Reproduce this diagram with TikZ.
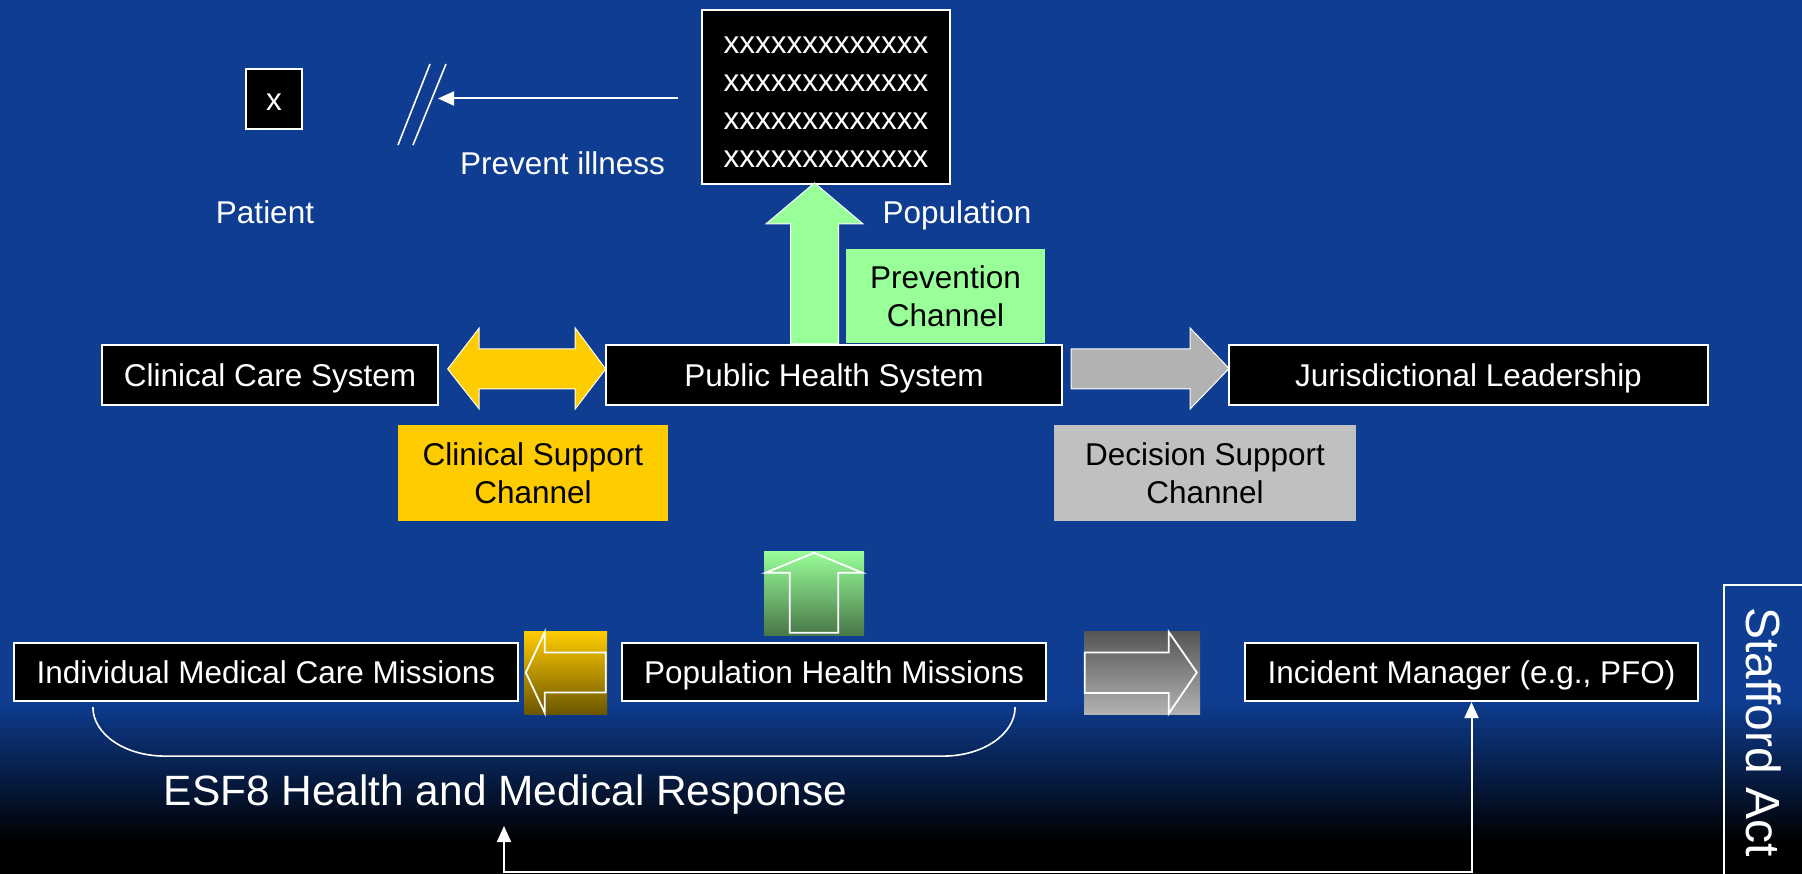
\documentclass[tikz,border=0pt]{standalone}
\usepackage{fontspec}
\setmainfont{Liberation Sans}
\usepackage{tikz}
\usetikzlibrary{calc,arrows.meta}
\definecolor{bgblue}{RGB}{14,61,146}
\definecolor{chanyellow}{RGB}{255,204,0}
\definecolor{changreen}{RGB}{153,255,153}
\definecolor{changray}{RGB}{192,192,192}
\definecolor{arrowgray}{RGB}{178,178,178}
\definecolor{tileolive}{RGB}{108,86,0}
\definecolor{tilegreen}{RGB}{72,120,72}
\definecolor{tiledark}{RGB}{85,85,85}
\tikzset{
  %---------------------------------------%
  %  Boxes                                %
  %---------------------------------------%
  % Box for the systems and missions
  box_dark/.style={
    rectangle,
    draw=white,
    line width=2.2pt,
    fill=black,
    text=white,
    inner sep=0pt,
    font=\fontsize{31.5}{38}\selectfont,
    text height=22.7pt,
    text depth=0pt
  },
  % Box for the channel names
  box_chan/.style={
    rectangle,
    align=center,
    inner sep=0pt,
    text=black,
    font=\fontsize{31.5}{38}\selectfont
  },
  % Plain white labels
  label_plain/.style={
    text=white,
    inner sep=0pt,
    font=\fontsize{31.5}{38}\selectfont,
    text height=22.7pt,
    text depth=0pt
  },
  % Shaded tiles holding the outlined arrows
  tile/.style={
    rectangle,
    inner sep=0pt
  },
  %----------------%
  %     Arrows     %
  %----------------%
  arrow/.style={draw=white,line width=2pt,->,>={Triangle[length=16pt,width=14pt]}},
  block_yellow/.style={fill=chanyellow,draw=white,line width=1pt},
  block_green/.style={fill=changreen,draw=white,line width=1pt},
  block_gray/.style={fill=arrowgray,draw=white,line width=1pt},
  hollow/.style={draw=white,line width=1.8pt,line join=miter},
  thin_line/.style={draw=white,line width=1.6pt},
}

\begin{document}
\begin{tikzpicture}[x=1pt, y=-1pt]
    \useasboundingbox (0,0) rectangle (1802,874);
    %--------------%
    %  Background  %
    %--------------%
    \fill [bgblue] (0,0) rectangle (1802,874);
    \shade [top color=bgblue, bottom color=black] (0,700) rectangle (1802,842);
    \fill [black] (0,841) rectangle (1802,874);

    %-----------------%
    %  Upper diagram  %
    %-----------------%
    % Patient side
    \node (patbox) [box_dark, minimum width=56, minimum height=60] at (274,99) {x};
    \node (patient) [label_plain] at (265,212) {Patient};
    % Population side
    \node (popbox) [box_dark, text height=141pt, text depth=, align=center, minimum width=248, minimum height=174] at (826,97) {xxxxxxxxxxxxx\\xxxxxxxxxxxxx\\xxxxxxxxxxxxx\\xxxxxxxxxxxxx};
    \node (population) [label_plain] at (957,212) {Population};
    \node (prevent) [label_plain] at (562.5,163.5) {Prevent illness};

    % Systems
    \node (ccs) [box_dark, minimum width=336, minimum height=60] at (270,375) {Clinical Care System};
    \node (phs) [box_dark, minimum width=456, minimum height=60] at (834,375) {Public Health System};
    \node (jl) [box_dark, minimum width=479, minimum height=60] at (1468.5,375) {Jurisdictional Leadership};

    % Channels
    \node (prevchan) [box_chan, fill=changreen, minimum width=199, minimum height=94] at (945.5,296) {Prevention\\Channel};
    \node (clinchan) [box_chan, fill=chanyellow, minimum width=270, minimum height=95.5] at (533,472.75) {Clinical Support\\Channel};
    \node (decchan) [box_chan, fill=changray, minimum width=302, minimum height=95.5] at (1205,472.75) {Decision Support\\Channel};

    % Prevention --> Population
    \draw [block_green] ($(phs.north)+(-43.5,0)$) -- ++(0,-120) -- ++(-24.5,0) -- ++(48.5,-41) -- ++(48.5,41) -- ++(-24.5,0) -- ++(0,120) -- cycle;
    % Clinical Care <--> Public Health
    \draw [block_yellow] ($(ccs.east)+(8.6,-6)$) -- ++(31.5,-41) -- ++(0,21) -- ++(96,0) -- ++(0,-21) -- ++(30.5,41) -- ++(-30.5,40) -- ++(0,-20) -- ++(-96,0) -- ++(0,20) -- cycle;
    % Public Health --> Jurisdictional Leadership
    \draw [block_gray] ($(phs.east)+(8,-26)$) -- ++(119,0) -- ++(0,-21) -- ++(39,40.5) -- ++(-39,40.5) -- ++(0,-20) -- ++(-119,0) -- cycle;

    % Population --> Patient (cut off)
    \coordinate (cut) at (438,98.5);
    \draw [arrow] ($(popbox.west)+(-23,1.5)$) -- (cut);
    \draw [thin_line] (398,145) -- (430,64);
    \draw [thin_line] (413,145) -- (446,64);

    %-----------------%
    %  Lower diagram  %
    %-----------------%
    % Missions
    \node (imc) [box_dark, minimum width=504, minimum height=58] at (266,672) {Individual Medical Care Missions};
    \node (phm) [box_dark, minimum width=424, minimum height=58] at (834,672) {Population Health Missions};
    \node (imgr) [box_dark, minimum width=453, minimum height=58] at (1471.5,672) {Incident Manager (e.g., PFO)};

    % Tiles
    \node (tile_care) [tile, top color=chanyellow, bottom color=tileolive, minimum width=83, minimum height=83] at (565.5,672.5) {};
    \node (tile_prev) [tile, top color=changreen, bottom color=tilegreen, minimum width=100, minimum height=84] at (814,593) {};
    \node (tile_dec) [tile, top color=tiledark, bottom color=arrowgray, minimum width=116, minimum height=83] at (1142,672.5) {};
    \draw [hollow] ($(tile_care.west)+(2,0)$) -- ++(19,-40.5) -- ++(0,20.5) -- ++(61,0) -- ++(0,40) -- ++(-61,0) -- ++(0,20.5) -- cycle;
    \draw [hollow] ($(tile_prev.north)+(0,2)$) -- ++(48.5,20) -- ++(-24.25,0) -- ++(0,60) -- ++(-48.5,0) -- ++(0,-60) -- ++(-24.25,0) -- cycle;
    \draw [hollow] ($(tile_dec.west)+(1,-20)$) -- ++(84,0) -- ++(0,-20.5) -- ++(28,40.5) -- ++(-28,41) -- ++(0,-20.5) -- ++(-84,0) -- cycle;

    % ESF8 brace
    \draw [thin_line] ($(imc.south west)+(80,5)$) .. controls +(0,27) and +(-40,0) .. ++(72,49) -- ($(phm.south east)+(-104,54)$) .. controls +(40,0) and +(0,27) .. ++(72,-49);
    \node (esf) [text=white, inner sep=0pt, anchor=base, font=\fontsize{42.4}{50}\selectfont] at (505.5,805) {ESF8 Health and Medical Response};

    % ESF8 <--> Incident Manager
    \coordinate (esf_hook) at (504,826);
    \draw [arrow,<->] (esf_hook) -- ++(0,46) -| (imgr.south);

    % Stafford Act
    \draw [thin_line, line width=2.2pt] (1724,890) |- (1812,585);
    \node (stafford) [text=white, inner sep=0pt, rotate=-90, font=\fontsize{48}{56}\selectfont] at (1763.5,732) {Stafford Act};
  \end{tikzpicture}
\end{document}
